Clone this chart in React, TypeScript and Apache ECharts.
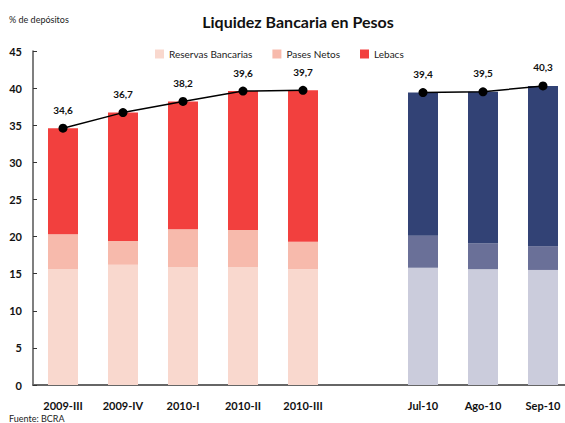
import React, { useEffect, useRef } from "react";
import * as echarts from "echarts";

const categories = ["2009-III", "2009-IV", "2010-I", "2010-II", "2010-III", "", "Jul-10", "Ago-10", "Sep-10"];
const reservas = [15.6, 16.2, 15.9, 15.9, 15.6, null, 15.8, 15.6, 15.5];
const pases = [4.7, 3.2, 5.1, 5.0, 3.7, null, 4.3, 3.5, 3.2];
const lebacs = [14.3, 17.3, 17.2, 18.7, 20.4, null, 19.3, 20.4, 21.6];
const totals = [34.6, 36.7, 38.2, 39.6, 39.7, null, 39.4, 39.5, 40.3];
const yTicks = [0, 5, 10, 15, 20, 25, 30, 35, 40, 45];

const redColors = ["#F9D8CE", "#F7BAAC", "#F2403E"];
const blueColors = ["#CBCCDC", "#6A7098", "#324275"];
const FONT = "Lato, 'DejaVu Sans', sans-serif";

export default function App() {
  const ref = useRef<HTMLDivElement>(null);
  useEffect(() => {
    document.body.style.margin = "0";
    document.body.style.overflow = "hidden";
    const chart = echarts.init(ref.current!, null, { renderer: "svg" });
    const mk = (arr: (number | null)[], idx: number) =>
      arr.map((v, i) =>
        v === null ? null : i > 5 ? { value: v, itemStyle: { color: blueColors[idx] } } : v
      );
    chart.setOption({
      animation: false,
      textStyle: { fontFamily: FONT },
      title: {
        text: "Liquidez Bancaria en Pesos",
        left: 293,
        textAlign: "center",
        top: 8,
        textStyle: { fontSize: 16, fontWeight: "bold", color: "#111", fontFamily: FONT },
      },
      graphic: [
        { type: "text", left: 9, top: 15, style: { text: "% de depósitos", fontSize: 9, fill: "#222", fontFamily: FONT } },
        { type: "text", left: 9, top: 414, style: { text: "Fuente: BCRA", fontSize: 9, fill: "#222", fontFamily: FONT } },
      ],
      legend: {
        data: ["Reservas Bancarias", "Pases Netos", "Lebacs"],
        left: 150,
        top: 44,
        itemWidth: 9,
        itemHeight: 9,
        itemGap: 20,
        icon: "rect",
        textStyle: { fontSize: 10, color: "#222", fontFamily: FONT },
      },
      grid: { left: 33, top: 51, width: 540, height: 334, outerBoundsMode: "none", containLabel: false },
      xAxis: {
        type: "category",
        data: categories,
        axisLine: { lineStyle: { color: "#666", width: 2 } },
        axisTick: { inside: true, length: 5, lineStyle: { color: "#333" } },
        axisLabel: { fontSize: 11, fontWeight: "bold", color: "#111", margin: 15, interval: 0 },
      },
      yAxis: {
        type: "value",
        min: 0,
        max: 45,
        interval: 5,
        splitLine: { show: false },
        axisLine: { show: true, lineStyle: { color: "#555", width: 1.5 } },
        axisTick: { show: true, inside: true, length: 4, lineStyle: { color: "#333" } },
        axisLabel: {
          fontSize: 11,
          fontWeight: "bold",
          color: "#111",
          margin: 11,
          formatter: (v: number) => (yTicks.includes(v) ? String(v) : ""),
        },
      },
      series: [
        { name: "Reservas Bancarias", type: "bar", stack: "a", barWidth: 30, data: mk(reservas, 0), itemStyle: { color: redColors[0] } },
        { name: "Pases Netos", type: "bar", stack: "a", barWidth: 30, data: mk(pases, 1), itemStyle: { color: redColors[1] } },
        { name: "Lebacs", type: "bar", stack: "a", barWidth: 30, data: mk(lebacs, 2), itemStyle: { color: redColors[2] } },
        {
          name: "Total",
          type: "line",
          data: totals,
          connectNulls: false,
          symbol: "circle",
          symbolSize: 9,
          lineStyle: { color: "#000", width: 1.5 },
          itemStyle: { color: "#000" },
          label: {
            show: true,
            position: "top",
            distance: 9,
            fontSize: 10,
            fontWeight: "bold",
            color: "#111",
            formatter: (p: any) => String(p.value.toFixed(1)).replace(".", ","),
          },
          z: 5,
        },
      ],
    });
    return () => chart.dispose();
  }, []);
  return <div ref={ref} style={{ width: 565, height: 423 }} />;
}
